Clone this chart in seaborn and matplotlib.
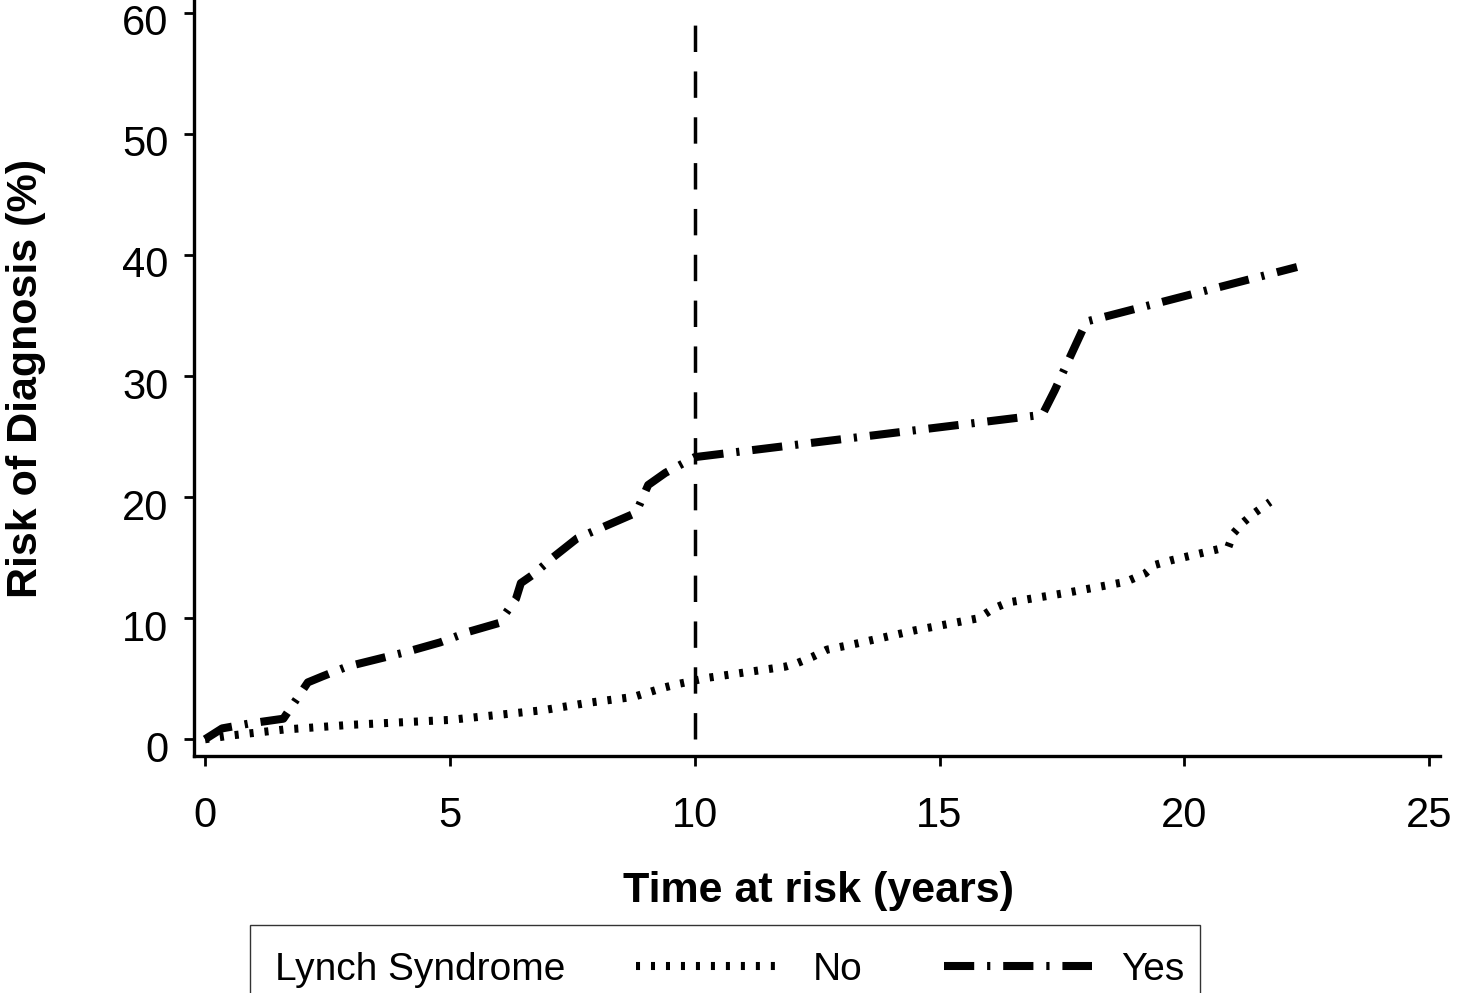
import matplotlib
matplotlib.use("Agg")
import matplotlib.pyplot as plt
import matplotlib.transforms as mtransforms
from matplotlib.lines import Line2D
from matplotlib.patches import Rectangle
import seaborn as sns
import pandas as pd

# ---- data ----
time_no = [0.0, 0.5, 1.6, 3.0, 5.0, 6.9, 7.8, 8.75, 9.4, 9.7, 10.3, 11.85, 12.1, 12.4,
           12.7, 13.3, 14.5, 15.8, 16.1, 16.4, 17.6, 18.8, 19.2, 19.4, 19.75, 20.9,
           21.0, 21.2, 21.4, 21.75]
risk_no = [0.0, 0.3, 0.8, 1.2, 1.6, 2.4, 3.0, 3.5, 4.3, 4.6, 5.1, 6.0, 6.3, 6.8,
           7.4, 7.9, 9.0, 10.0, 10.8, 11.3, 12.1, 13.0, 13.7, 14.4, 14.8, 15.9,
           17.0, 17.9, 18.6, 19.6]

time_yes = [0.0, 0.35, 0.9, 1.6, 1.75, 1.95, 2.1, 2.4, 2.9, 3.5, 4.1, 4.8, 5.4, 6.0,
            6.35, 6.45, 6.7, 7.1, 7.6, 8.8, 9.05, 9.4, 10.0, 17.1, 17.35, 17.6, 18.0, 22.3]
risk_yes = [0.0, 0.9, 1.3, 1.7, 2.6, 3.8, 4.7, 5.2, 6.0, 6.6, 7.2, 8.0, 8.9, 9.6,
            11.6, 12.9, 13.6, 15.0, 16.6, 18.7, 21.0, 22.0, 23.3, 26.8, 28.8, 31.0, 34.5, 39.0]

groups = ["No", "Yes"]
legend_title = "Lynch Syndrome"
x_label = "Time at risk (years)"
y_label = "Risk of Diagnosis (%)"
x_ticks = [0, 5, 10, 15, 20, 25]
y_ticks = [0, 10, 20, 30, 40, 50, 60]
ref_time = 10

df = pd.concat([
    pd.DataFrame({"time": time_no, "risk": risk_no, "group": groups[0]}),
    pd.DataFrame({"time": time_yes, "risk": risk_yes, "group": groups[1]}),
], ignore_index=True)

sns.set_style("ticks")
plt.rcParams["font.family"] = ["Liberation Sans", "DejaVu Sans"]
for k in ["text.color", "axes.labelcolor", "xtick.color", "ytick.color", "axes.edgecolor"]:
    plt.rcParams[k] = "black"

fig = plt.figure(figsize=(14.57, 9.93), dpi=100)
ax = fig.add_axes([194 / 1457, (993 - 756) / 993, (1440 - 194) / 1457, 756 / 993])

lw_no, lw_yes = 5.8, 5.8
dash_no = (0.5, 1.36)
dash_yes = (3.75, 1.6, 0.4, 1.6)
sns.lineplot(data=df, x="time", y="risk", hue="group", style="group",
             palette={"No": "black", "Yes": "black"},
             dashes={"No": dash_no, "Yes": dash_yes},
             size="group", sizes={"No": lw_no, "Yes": lw_yes},
             estimator=None, sort=False, legend=False, ax=ax)
for ln in ax.get_lines():
    ln.set_dash_capstyle("butt")

ax.vlines(ref_time, 0, 60, colors="black", linewidth=2.5, linestyles=(0, (7.6, 5.6)))

ax.set_xlim(-0.225, 25.22)
ax.set_ylim(-1.38, 61.05)
ax.set_xticks(x_ticks)
ax.set_yticks(y_ticks)
sns.despine(ax=ax)
for s in ["left", "bottom"]:
    ax.spines[s].set_linewidth(2.4)
ax.tick_params(axis="both", length=7.5, width=2.0, labelsize=30, color="black")
ax.tick_params(axis="x", pad=21)
ax.tick_params(axis="y", pad=11)
shift = mtransforms.ScaledTranslation(0, -0.07, fig.dpi_scale_trans)
for lab in ax.get_yticklabels():
    lab.set_transform(lab.get_transform() + shift)

ax.set_xlabel(x_label, fontsize=31, fontweight="bold")
ax.set_ylabel(y_label, fontsize=31, fontweight="bold")
ax.xaxis.set_label_coords(0.501, -0.152)
ax.yaxis.set_label_coords(-0.119, 0.5)

# legend box (extends below the figure edge like the reference)
fig.add_artist(Rectangle((250 / 1457, -0.05), 950 / 1457, 0.05 + (993 - 925) / 993,
                         transform=fig.transFigure, facecolor="none",
                         edgecolor="#333333", linewidth=1.0, zorder=0.5))
fig.text(275 / 1457, (993 - 970) / 993, legend_title, fontsize=28,
         ha="left", va="center")
handles = [Line2D([], [], color="black", lw=lw_no, dashes=dash_no, dash_capstyle="butt"),
           Line2D([], [], color="black", lw=lw_yes, dashes=dash_yes, dash_capstyle="butt")]
fig.legend(handles, groups, ncol=2, loc="center left",
           bbox_to_anchor=(636 / 1457, (993 - 970) / 993), bbox_transform=fig.transFigure,
           frameon=False, fontsize=28, handlelength=3.8, handletextpad=0.75,
           columnspacing=2.1, borderpad=0, borderaxespad=0)

fig.savefig("out.png", dpi=100)
